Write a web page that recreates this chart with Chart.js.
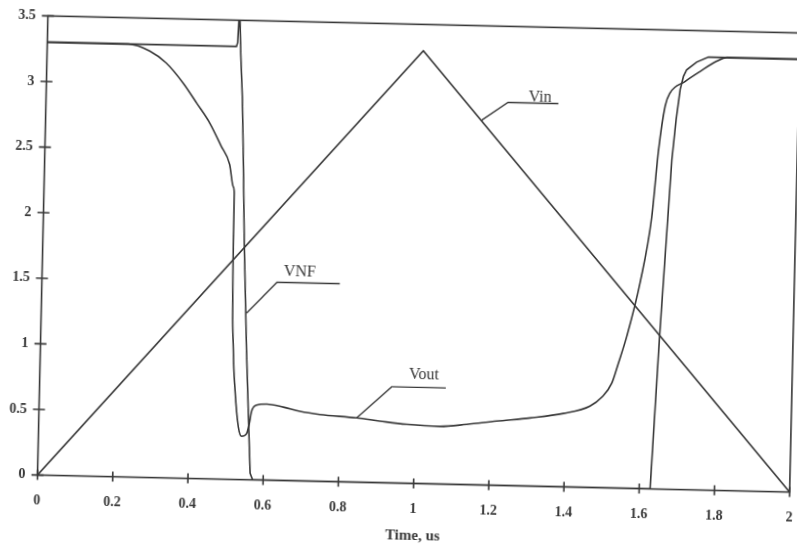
<!DOCTYPE html>
<html>
<head>
<meta charset="utf-8">
<script src="https://cdn.jsdelivr.net/npm/chart.js@4.4.1/dist/chart.umd.min.js"></script>
<style>
  html, body { margin: 0; padding: 0; background: #fff; overflow: hidden; width: 797px; height: 545px; }
  #wrap { position: absolute; left: 0; top: 0; width: 820px; height: 545px;
          transform-origin: 418.75px 254px; transform: rotate(1.3deg); }
  canvas { display: block; }
</style>
</head>
<body>
<div id="wrap"><canvas id="c" width="820" height="545"></canvas></div>
<script>
// Time axis in microseconds, node voltages in volts
const vinT = [0, 1.0, 2.0];
const vinV = [0, 3.3, 0];

const vnfT = [0, 0.503, 0.506, 0.508, 0.511, 0.515, 0.522, 0.528, 0.536, 0.548, 0.565, 0.572,
              1.629, 1.645, 1.667, 1.676, 1.685, 1.693, 1.701, 1.727, 1.758, 2.0];
const vnfV = [3.30, 3.30, 3.33, 3.50, 3.50, 3.24, 2.90, 2.45, 1.78, 0.99, 0.05, 0,
              0, 1.16, 2.51, 2.82, 3.05, 3.15, 3.20, 3.26, 3.30, 3.30];

const voutT = [0, 0.215, 0.273, 0.318, 0.364, 0.401, 0.437, 0.468, 0.492, 0.503, 0.506, 0.507,
               0.513, 0.520, 0.531, 0.540, 0.553, 0.560, 0.565, 0.578, 0.605, 0.649, 0.694, 0.747,
               0.845, 0.907, 0.978, 1.067, 1.138, 1.217, 1.306, 1.394, 1.464, 1.495, 1.521, 1.537,
               1.558, 1.590, 1.617, 1.631, 1.646, 1.658, 1.697, 1.737, 1.780, 1.807, 2.0];
const voutV = [3.30, 3.30, 3.25, 3.16, 3.01, 2.86, 2.71, 2.54, 2.40, 2.23, 2.18, 1.67,
               0.99, 0.68, 0.40, 0.33, 0.35, 0.43, 0.52, 0.57, 0.58, 0.56, 0.53, 0.51,
               0.49, 0.47, 0.45, 0.44, 0.46, 0.49, 0.52, 0.56, 0.62, 0.69, 0.80, 0.95,
               1.16, 1.57, 2.07, 2.58, 2.92, 3.02, 3.11, 3.19, 3.27, 3.30, 3.30];

const xTicks = [0, 0.2, 0.4, 0.6, 0.8, 1, 1.2, 1.4, 1.6, 1.8, 2];
const xTickLabels = ['0', '0.2', '0.4', '0.6', '0.8', '1', '1.2', '1.4', '1.6', '1.8', '2'];
const yTicks = [0, 0.5, 1, 1.5, 2, 2.5, 3, 3.5];
const yTickLabels = ['0', '0.5', '1', '1.5', '2', '2.5', '3', '3.5'];
const xTitle = 'Time, us';

// Trace names with their leader lines (data coordinates: time, volts)
const callouts = [
  { text: 'Vin',  at: [1.313, 2.967], path: [[1.159, 2.78], [1.228, 2.92], [1.362, 2.92]] },
  { text: 'VNF',  at: [0.685, 1.592], path: [[0.546, 1.27], [0.625, 1.51], [0.792, 1.51]] },
  { text: 'Vout', at: [1.021, 0.829], path: [[0.845, 0.49], [0.936, 0.733], [1.080, 0.733]] }
];

const ink = '#383838';
const serif = "'Liberation Serif', 'DejaVu Serif', serif";
const toXY = (t, v) => t.map((x, i) => ({ x, y: v[i] }));

// Frame, crossing tick marks and trace callouts
const axisMarks = {
  id: 'axisMarks',
  afterDatasetsDraw(chart) {
    const { ctx, chartArea: a, scales: { x, y } } = chart;
    ctx.save();
    ctx.strokeStyle = ink;
    ctx.lineWidth = 1.6;
    ctx.strokeRect(a.left, a.top, a.right - a.left, a.bottom - a.top);
    ctx.beginPath();
    xTicks.forEach(v => {
      const px = x.getPixelForValue(v);
      ctx.moveTo(px, a.bottom - 5); ctx.lineTo(px, a.bottom + 5);
    });
    yTicks.forEach(v => {
      const py = y.getPixelForValue(v);
      ctx.moveTo(a.left - 6, py); ctx.lineTo(a.left + 6, py);
    });
    ctx.stroke();

    ctx.lineWidth = 1.3;
    ctx.fillStyle = ink;
    ctx.font = '16px ' + serif;
    ctx.textAlign = 'center';
    ctx.textBaseline = 'middle';
    callouts.forEach(c => {
      ctx.beginPath();
      c.path.forEach(([vx, vy], i) => {
        const X = x.getPixelForValue(vx), Y = y.getPixelForValue(vy);
        if (i) ctx.lineTo(X, Y); else ctx.moveTo(X, Y);
      });
      ctx.stroke();
      ctx.fillText(c.text, x.getPixelForValue(c.at[0]), y.getPixelForValue(c.at[1]));
    });
    ctx.restore();
  }
};

const lineStyle = { borderColor: ink, borderWidth: 1.6, pointRadius: 0, tension: 0, fill: false };

new Chart(document.getElementById('c'), {
  type: 'line',
  data: {
    datasets: [
      { label: 'Vin',  data: toXY(vinT, vinV),   ...lineStyle },
      { label: 'VNF',  data: toXY(vnfT, vnfV),   ...lineStyle },
      { label: 'Vout', data: toXY(voutT, voutV), ...lineStyle, cubicInterpolationMode: 'monotone' }
    ]
  },
  options: {
    responsive: false,
    animation: false,
    layout: { padding: { left: 0, right: 25.1, top: 24.4, bottom: 0 } },
    plugins: { legend: { display: false }, tooltip: { enabled: false } },
    scales: {
      x: {
        type: 'linear', min: 0, max: 2,
        grid: { display: false, drawTicks: false },
        border: { display: false },
        afterBuildTicks: s => { s.ticks = xTicks.map(v => ({ value: v })); },
        afterFit: s => { s.height = 61.4; },
        ticks: {
          autoSkip: false, maxRotation: 0, padding: 17,
          callback: (v, i) => xTickLabels[i],
          color: ink, font: { family: serif, size: 14, weight: 'bold' }
        },
        title: {
          display: true, text: xTitle, padding: { top: 4, bottom: 0 },
          color: ink, font: { family: serif, size: 15, weight: 'bold' }
        }
      },
      y: {
        type: 'linear', min: 0, max: 3.5,
        grid: { display: false, drawTicks: false },
        border: { display: false },
        afterBuildTicks: s => { s.ticks = yTicks.map(v => ({ value: v })); },
        afterFit: s => { s.width = 42.6; },
        ticks: {
          autoSkip: false, padding: 12,
          callback: (v, i) => yTickLabels[i],
          color: ink, font: { family: serif, size: 14, weight: 'bold' }
        }
      }
    }
  },
  plugins: [axisMarks]
});
</script>
</body>
</html>
